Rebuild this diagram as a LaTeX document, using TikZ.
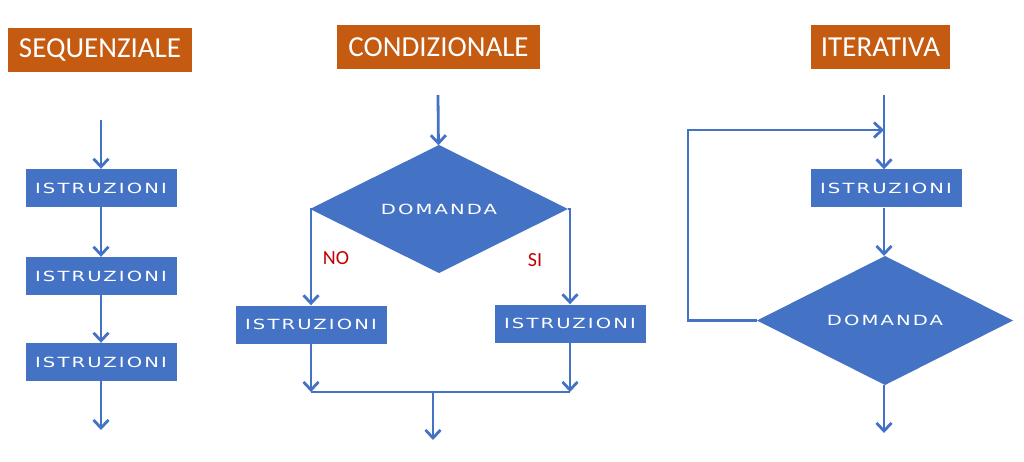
\documentclass[tikz,border=0pt]{standalone}
\usepackage{fontspec}
\setmainfont{Carlito}
\newfontfamily\wideface[FakeStretch=1.4,LetterSpace=15]{DejaVu Sans}
\usetikzlibrary{positioning,arrows.meta,shapes.geometric}
\definecolor{flowblue}{HTML}{4472C4}
\definecolor{titleorange}{HTML}{C55A11}
\definecolor{labelred}{HTML}{C00000}

\begin{document}
\begin{tikzpicture}[x=1pt,y=-1pt,
    title/.style = {fill=titleorange, text=white, font=\fontsize{29}{32}\selectfont,
                    minimum height=44pt, inner sep=0pt},
    block/.style = {fill=flowblue, text=white, font=\wideface\fontsize{14}{16}\selectfont,
                    minimum width=151pt, minimum height=38pt, inner sep=0pt},
    choice/.style = {diamond, fill=flowblue, text=white, font=\wideface\fontsize{14}{16}\selectfont,
                     inner sep=0pt, outer sep=0pt},
    lbl/.style = {text=labelred, font=\fontsize{20}{22}\selectfont, inner sep=0pt},
    line/.style = {draw=flowblue, line width=2.8pt},
    arr/.style = {line, -{Straight Barb[length=8pt,width=15pt]}}]
  \useasboundingbox (0,0) rectangle (1024,462);

  % titoli
  \node[title, minimum width=184pt] (seqtit) at (100,50) {SEQUENZIALE};
  \node[title, minimum width=203pt] (condtit) at (438.5,47.5) {CONDIZIONALE};
  \node[title, minimum width=139pt] (itertit) at (880.5,47.5) {ITERATIVA};

  % sequenziale
  \coordinate (s0) at (101,120);
  \node[block] (seq1) at (101,188) {ISTRUZIONI};
  \node[block] (seq2) at (101,276) {ISTRUZIONI};
  \node[block] (seq3) at (101,362) {ISTRUZIONI};
  \coordinate (s4) at (101,430);
  \draw[arr] (s0) -- (seq1);
  \draw[arr] (seq1) -- (seq2);
  \draw[arr] (seq2) -- (seq3);
  \draw[arr] (seq3) -- (s4);

  % condizionale
  \coordinate (c0) at (438,95);
  \node[choice, minimum width=258pt, minimum height=128pt] (dom1) at (439,209) {DOMANDA};
  \node[block] (no) at (311,324.5) {ISTRUZIONI};
  \node[block] (si) at (570,323.5) {ISTRUZIONI};
  \node[lbl] (nolbl) at (336,258) {NO};
  \node[lbl] (silbl) at (535,260) {SI};
  \coordinate (m1) at (311,392);
  \coordinate (m2) at (570,392);
  \coordinate (m0) at (433,392);
  \coordinate (c4) at (433,440);
  \draw[arr] (c0) -- (dom1);
  \draw[arr] (dom1.west) -| (no);
  \draw[arr] (dom1.east) -| (si);
  \draw[arr] (no) -- (m1);
  \draw[arr] (si) -- (m2);
  \draw[line] (m1) -- (m2);
  \draw[arr] (m0) -- (c4);

  % iterativa
  \coordinate (i0) at (884,95);
  \coordinate (ij) at (884,130);
  \node[block] (ist) at (886,188.5) {ISTRUZIONI};
  \node[choice, minimum width=256pt, minimum height=129pt] (dom2) at (885,320.5) {DOMANDA};
  \coordinate (lp) at (688,320.5);
  \coordinate (i4) at (884,433);
  \draw[arr] (i0) -- (ist.north -| i0);
  \draw[arr] (ist.south -| i0) -- (dom2.north -| i0);
  \draw[arr] (dom2.west) -- (lp) |- (ij);
  \draw[arr] (dom2.south -| i0) -- (i4);
\end{tikzpicture}
\end{document}
